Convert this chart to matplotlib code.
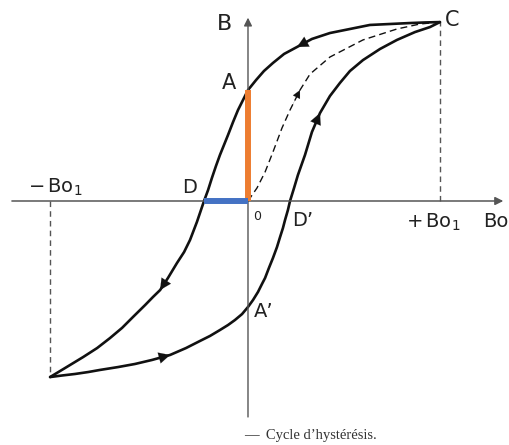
import matplotlib as mpl
import matplotlib.pyplot as plt

plt.rc('font', family='DejaVu Sans')
plt.rc('mathtext', default='regular')

# Bo axis: 10 units = Bo1 ; B on the same scale
# descending branch C -> A -> D -> bottom-left
DOWN_BO = [10.0, 9.22, 8.44, 7.40, 6.35, 5.31, 4.27, 3.33, 2.55, 1.88, 1.30, 0.83, 0.42,
           0.0, -0.26, -0.52, -0.78, -1.04, -1.25, -1.46, -1.67, -1.88, -2.08,
           -2.29, -2.66, -3.02, -3.33, -3.70, -4.17, -4.58, -4.95, -5.36, -5.99,
           -6.56, -7.19, -7.86, -8.59, -9.53, -10.31]
DOWN_B = [9.32, 9.30, 9.27, 9.22, 9.17, 8.96, 8.75, 8.44, 8.02, 7.66, 7.19, 6.77, 6.30,
          5.78, 5.26, 4.74, 4.11, 3.44, 2.92, 2.40, 1.82, 1.20, 0.57,
          0.0, -1.09, -2.03, -2.66, -3.23, -4.01, -4.64, -5.00, -5.42, -6.04,
          -6.61, -7.14, -7.66, -8.13, -8.70, -9.17]

# ascending branch bottom-left -> A' -> D' -> C
UP_BO = [-10.31, -9.69, -9.01, -8.33, -7.71, -6.77, -5.89, -5.00, -4.06, -3.23, -2.50,
         -1.98, -1.46, -1.04, -0.68, -0.31, 0.0, 0.26, 0.52, 0.73, 0.89, 1.09, 1.30,
         1.51, 1.67, 1.82, 1.93, 2.08, 2.19, 2.40, 2.60, 2.97, 3.33, 3.75, 4.27, 4.79,
         5.31, 5.99, 6.88, 7.76, 8.70, 9.48, 10.0]
UP_B = [-9.17, -9.09, -9.01, -8.91, -8.80, -8.65, -8.49, -8.28, -8.02, -7.66, -7.29,
        -7.03, -6.72, -6.46, -6.20, -5.89, -5.52, -5.16, -4.74, -4.32, -4.01, -3.49, -2.97,
        -2.40, -1.88, -1.41, -0.99, -0.47, 0.0, 0.68, 1.35, 2.40, 3.59, 4.58, 5.47, 6.15,
        6.77, 7.34, 7.92, 8.39, 8.80, 9.06, 9.32]

# first magnetisation curve O -> C (dashed)
FIRST_BO = [0.0, 0.47, 0.89, 1.30, 1.77, 2.19, 2.71, 3.23, 4.27, 5.99, 7.76, 8.96, 10.0]
FIRST_B = [0.0, 0.68, 1.51, 2.55, 3.80, 4.74, 5.78, 6.61, 7.50, 8.39, 8.96, 9.22, 9.32]

BO1 = 10.0
BO1_NEG = -10.31
B_REM = 5.78       # OA
BO_COERC = -2.29   # OD

BLACK = '#111111'
AXIS = '#555555'
ORANGE = '#ED7D31'
BLUE = '#4472C4'


def arrow_at(ax, xs, ys, x_head, scale=20):
    # arrowhead pointing along the curve, tip at the point nearest x_head
    i = min(range(1, len(xs)), key=lambda k: abs(xs[k] - x_head))
    ax.annotate('', xy=(xs[i], ys[i]), xytext=(xs[i - 1], ys[i - 1]),
                arrowprops=dict(arrowstyle='-|>', color=BLACK, lw=0.1,
                                mutation_scale=scale, shrinkA=0, shrinkB=0))


fig = plt.figure(figsize=(5.1, 4.45), dpi=100)
ax = fig.add_axes([0, 0, 1, 1])
ax.set_xlim(-12.92, 13.65)
ax.set_ylim(-12.71, 10.47)
ax.axis('off')

# axes with arrows
ax.annotate('', xy=(13.3, 0), xytext=(-12.3, 0),
            arrowprops=dict(arrowstyle='-|>', color=AXIS, lw=1.1, mutation_scale=12,
                            shrinkA=0, shrinkB=0))
ax.annotate('', xy=(0, 9.55), xytext=(0, -11.25),
            arrowprops=dict(arrowstyle='-|>', color=AXIS, lw=1.0, mutation_scale=12,
                            shrinkA=0, shrinkB=0))

# dashed verticals at +/- Bo1
ax.plot([BO1, BO1], [0, UP_B[-1]], color=AXIS, lw=1.0, ls=(0, (4, 3)))
ax.plot([BO1_NEG, BO1_NEG], [0, DOWN_B[-1]], color=AXIS, lw=1.0, ls=(0, (4, 3)))

# hysteresis loop
ax.plot(DOWN_BO, DOWN_B, color=BLACK, lw=1.9, solid_capstyle='round', solid_joinstyle='round')
ax.plot(UP_BO, UP_B, color=BLACK, lw=1.9, solid_capstyle='round', solid_joinstyle='round')
ax.plot(FIRST_BO, FIRST_B, color=BLACK, lw=1.0, ls=(0, (5, 3)))

arrow_at(ax, DOWN_BO, DOWN_B, 2.55)
arrow_at(ax, DOWN_BO, DOWN_B, -4.58)
arrow_at(ax, UP_BO, UP_B, -4.06)
arrow_at(ax, UP_BO, UP_B, 3.75)
arrow_at(ax, FIRST_BO, FIRST_B, 2.71, scale=14)

# remanence and coercive field
ax.plot([0, 0], [0, B_REM], color=ORANGE, lw=4.3, solid_capstyle='butt', zorder=5)
ax.plot([BO_COERC, 0], [0, 0], color=BLUE, lw=4.3, solid_capstyle='butt', zorder=5)

# labels
lab = dict(color='#222222', ha='center', va='center')
ax.text(-1.20, 9.22, 'B', fontsize=16, **lab)
ax.text(10.63, 9.43, 'C', fontsize=15, **lab)
ax.text(-0.99, 6.15, 'A', fontsize=15, **lab)
ax.text(-10.05, 0.73, r'$-\,Bo_1$', fontsize=14, **lab)
ax.text(-3.07, 0.68, 'D', fontsize=14, **lab)
ax.text(0.47, -0.80, '0', fontsize=9, **lab)
ax.text(2.86, -0.99, 'D’', fontsize=14, **lab)
ax.text(9.64, -1.09, r'$+\,Bo_1$', fontsize=14, **lab)
ax.text(12.92, -1.09, 'Bo', fontsize=14, **lab)
ax.text(0.83, -5.78, 'A’', fontsize=14, **lab)

ax.text(3.28, -12.19, '—  Cycle d’hystérésis.', fontsize=10.5, family='Liberation Serif',
        color='#333333', ha='center', va='center')

fig.savefig('out.png', dpi=100)
